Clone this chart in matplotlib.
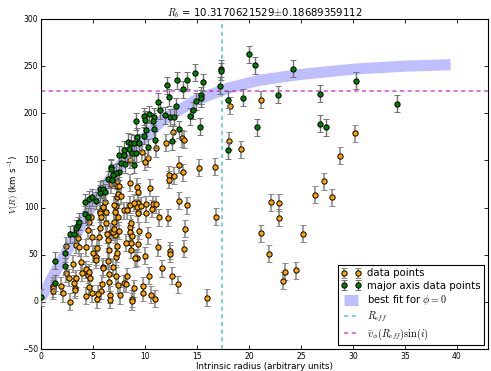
import numpy as np
import matplotlib
matplotlib.use("Agg")
import matplotlib.pyplot as plt

# ---- data ----
title_txt = r"$R_b$ = 10.3170621529$\pm$0.18689359112"

# all data points (orange)
r_all = [1.2, 1.2, 1.2, 1.95, 2.1, 2.76, 2.43, 2.37, 2.66, 3.08, 3.24, 3.24, 3.14, 3.37,
         3.33, 3.65, 3.59, 3.88, 3.94, 4.36, 4.36, 4.52, 4.68, 4.6, 4.59, 4.35, 4.87,
         4.52, 4.59, 4.84, 4.9, 5.0, 5.32, 5.32, 5.41, 5.58, 5.64, 5.7, 5.7, 5.8, 5.96,
         6.28, 6.12, 6.44, 5.96, 5.96, 5.8, 5.87, 5.38, 5.5, 6.6, 6.6, 6.54, 6.54, 6.92,
         7.18, 6.54, 6.44, 6.28, 6.76, 7.08, 6.35, 6.9, 7.05, 7.1, 7.2, 7.34, 7.34, 7.2,
         7.4, 7.53, 7.6, 7.44, 7.28, 7.4, 7.66, 7.34, 7.53, 7.98, 8.24, 8.24, 7.98, 8.2,
         8.6, 8.56, 8.56, 8.56, 8.72, 8.65, 8.69, 8.72, 8.72, 8.97, 9.26, 9.36, 9.36,
         9.26, 9.58, 9.36, 9.36, 9.2, 9.78, 9.84, 10.06, 10.1, 10.0, 10.48, 10.32, 10.38,
         10.54, 10.8, 11.0, 11.1, 11.35, 11.28, 11.67, 12.18, 12.4, 12.4, 12.63, 12.34,
         12.34, 12.79, 13.3, 13.62, 13.27, 13.2, 13.75, 13.81, 14.07, 15.16, 15.96, 16.73,
         16.8, 8.97, 8.65, 8.17, 9.4, 9.07, 7.0, 7.05, 10.7, 18.2, 18.05, 19.2, 12.66,
         13.56, 13.8, 12.0, 11.06, 10.26, 10.03, 9.7, 8.56, 7.3, 6.76, 21.2, 30.2, 28.8,
         27.2, 26.4, 27.95, 22.1, 22.9, 22.9, 21.2, 25.2, 21.9, 23.5, 23.3, 24.55]
v_all = [17, 14.5, 12, 17.3, 9.2, 0, 59.7, 30.4, 25.8, 40.3, 15.2, 12.7, 19.8, 25,
         60.4, 58, 68.2, 42.7, 31, 58, 34.7, 28.6, 25.8, 31.4, 16.2, 6.4, 9.0,
         76.4, 85.2, 90.5, 68.6, 51.6, 48, 44.5, 57.6, 69.3, 78, 96.8, 94, 89.8, 101,
         95.8, 106.4, 43.5, 37.5, 35.4, 11.7, 19, 2.8, 8.5, 7.4, 2.1, 29.7, 20.9, 36.8,
         48, 55, 65.7, 83.4, 74.5, 71, 71.8, 74.6, 85.2, 95.8, 101.8, 59.4, 51.6, 27.6,
         18, 75.6, 7.0, 90.5, 111.7, 114.2, 112.5, 123, 123, 96.9, 96.9, 26.9, 19.8, 19.1,
         126.5, 102.9, 79.2, 74.6, 70, 62.2, 55, 3.2, 0.4, 14.5, 122.3, 117, 104.7,
         100.5, 101.8, 94, 61.5, 47, 17, 9.9, 103.5, 94, 48.8, 121.2, 70.4, 27.6,
         7.4, 103.5, 3.2, 103.5, 89.8, 58, 35.7, 89.1, 54, 51, 27.6, 134.7,
         129.4, 134, 145.6, 137.4, 107, 18.7, 56.3, 77.8, 102.4, 142.5, 4.2, 143.5,
         90.1, 105.3, 83.4, 62.9, 75.6, 46.3, 77, 103, 98.6, 207.8, 171, 162, 180,
         173.6, 171.8, 169, 163, 152.4, 148.8, 158.7, 150.6, 128.6, 124.8, 214.5, 178.9, 155,
         128, 113.8, 111, 105.7, 105, 89.4, 72.8, 72.1, 51.2, 32.1, 22.6, 33.6]
err_all = 9

# major axis data points (green)
r_maj = [0, 1.3, 1.3, 2.3, 2.3, 2.76, 3.14, 3.4, 3.6, 3.7, 4.2, 4.5, 4.2, 4.6, 5.3,
         20.0, 20.6, 17.3, 17.35, 17.2, 18.0, 19.45, 20.8, 18.0, 14.8, 14.07, 13.05, 13.7,
         12.1, 15.6, 15.35, 15.35, 14.9, 14.6, 14.36, 15.3, 12.3, 11.3, 11.44, 12.95, 11.9,
         12.4, 12.8, 10.4, 10.9, 9.9, 10.0, 10.8, 9.1, 10.9, 10.1, 13.3, 11.0, 12.6, 9.9,
         9.26, 8.4, 8.65, 8.9, 9.45, 8.5, 8.8, 9.1, 10.3, 7.95, 7.5, 8.0, 7.7, 8.05, 8.97,
         6.7, 6.7, 7.5, 7.2, 6.9, 6.4, 6.86, 5.67, 5.93, 5.7, 6.15, 4.9, 24.2, 30.3, 22.8,
         26.8, 34.2, 26.8, 27.4]
v_maj = [5, 43.5, 20, 51.6, 38, 71.8, 72, 78, 81, 85, 93, 90.5, 105.7, 109, 107,
         262.6, 251, 247.4, 244.5, 229.4, 214.6, 216.7, 185, 161, 243, 235, 235, 225.5,
         229.8, 233, 219, 216, 213, 203, 197, 185.6, 217, 212, 203, 207.5, 198,
         196, 196, 199, 196.5, 197, 193, 191.6, 191.6, 183, 182, 183, 171.8, 170.4, 176,
         175, 170, 169, 168, 169, 162, 158, 157.6, 164, 161.5, 156, 155.5, 147.7, 146, 145.6,
         142.8, 141.4, 138, 136.8, 134.3, 130, 129.4, 119.5, 120, 115, 116, 111, 247.4, 234.4, 219.5,
         220.6, 210, 188.8, 185.2]
err_maj = 9

# best-fit curve (phi = 0), read at several radii
fit_r = [0, 2.1, 5.2, 8.5, 11.7, 14.9, 18.1, 21.0, 24.8, 30.3, 35.0, 39.4]
fit_v = [4, 46, 108, 158, 193, 214, 227, 235, 241, 247, 250, 251.5]

r_eff = 17.4
v_eff = 223.5

# ---- plot ----
plt.style.use('classic')
plt.rcParams['font.size'] = 5.5
plt.rcParams['mathtext.fontset'] = 'cm'

fig = plt.figure(figsize=(4.91, 3.71), dpi=100, facecolor='white')
ax = fig.add_axes([41/491, 22/371, 447/491, 330/371])

ax.plot(fit_r, fit_v, color='blue', alpha=0.25, lw=8, solid_capstyle='butt',
        label=r'best fit for $\phi=0$', zorder=1)
ax.axvline(r_eff, color='#30c0c0', ls='--', dashes=(3, 2.5), lw=1.1, alpha=0.85,
           label=r'$R_{eff}$', zorder=1)
ax.axhline(v_eff, color='m', ls='--', dashes=(3, 2.5), lw=1.1, alpha=0.7,
           label=r'$\bar{v}_\phi(R_{eff})\sin(i)$', zorder=1)

ax.errorbar(r_all, v_all, yerr=err_all, fmt='o', color='orange', mec='k', mew=0.7,
            ms=3.8, ecolor='0.55', elinewidth=1.2, capsize=2, capthick=0.8,
            label='data points', zorder=3)
ax.errorbar(r_maj, v_maj, yerr=err_maj, fmt='o', color='green', mec='k', mew=0.7,
            ms=3.8, ecolor='0.45', elinewidth=1.0, capsize=2, capthick=0.8,
            label='major axis data points', zorder=4)

ax.set_xlim(0, 43)
ax.set_ylim(-50, 300)
ax.set_xticks(np.arange(0, 41, 5))
ax.set_yticks(np.arange(-50, 301, 50))
ax.tick_params(length=3, width=0.6, labelsize=5.5, pad=2)
for s in ax.spines.values():
    s.set_linewidth(0.8)

ax.set_xlabel('Intrinsic radius (arbitrary units)', fontsize=6.3, labelpad=1)
ax.set_ylabel(r'$V(R)$ (km s$^{-1}$)', fontsize=6.3, labelpad=0)
ax.set_title(title_txt, fontsize=7.3, pad=2)

h, l = ax.get_legend_handles_labels()
order = [l.index('data points'), l.index('major axis data points'),
         l.index(r'best fit for $\phi=0$'), l.index(r'$R_{eff}$'),
         l.index(r'$\bar{v}_\phi(R_{eff})\sin(i)$')]
leg = ax.legend([h[i] for i in order], [l[i] for i in order], loc='lower right',
                fontsize=7.3, numpoints=2, handlelength=2.0, borderpad=0.3,
                labelspacing=0.25, handletextpad=0.6, borderaxespad=0.4)
leg.get_frame().set_linewidth(0.8)

fig.savefig('out.png', dpi=100, facecolor='white')
